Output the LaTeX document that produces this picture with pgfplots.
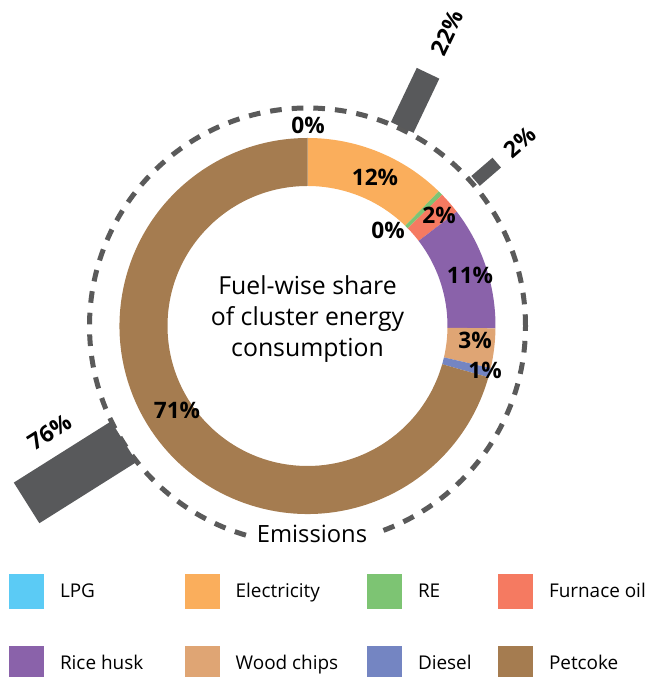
\documentclass[border=0pt]{standalone}
\usepackage{pgfplots}
\pgfplotsset{compat=1.18}
\usepackage{pgfplotstable}
\usepackage{fontspec}
\setmainfont{Open Sans}

\definecolor{fuel0}{HTML}{5BCBF5}
\definecolor{fuel1}{HTML}{FAAE5C}
\definecolor{fuel2}{HTML}{7DC473}
\definecolor{fuel3}{HTML}{F57A61}
\definecolor{fuel4}{HTML}{8A62AA}
\definecolor{fuel5}{HTML}{DFA574}
\definecolor{fuel6}{HTML}{7485C2}
\definecolor{fuel7}{HTML}{A57C50}
\definecolor{barcol}{HTML}{58595B}
\definecolor{dashcol}{HTML}{5A5A5A}

% fuel-wise share of cluster energy consumption (%), clockwise from top
\pgfplotstableread{
share
0.0
12.3
0.4
1.9
10.6
3.4
0.8
70.6
}\fuel

% emissions bars: angle clockwise from top, inner/outer radius, width (px), label pos, rotation, value
\pgfplotstableread{
angle rin rout width lx ly rot value
25.5 220 280 25 139.9 293.3 64.5 22
49.2 222 250 13 212.5 184 40.8 2
237.8 217 332 48 -258 -106 32.2 76
}\emis

\begin{document}
\begin{tikzpicture}
\def\cumul{0}
\pgfplotsforeachungrouped \i in {0,...,7}{%
  \pgfplotstablegetelem{\i}{share}\of\fuel
  \pgfmathsetmacro\tA{90-3.6*\cumul}%
  \pgfmathsetmacro\cumul{\cumul+\pgfplotsretval}%
  \pgfmathsetmacro\tB{90-3.6*\cumul}%
  \expandafter\xdef\csname fA\i\endcsname{\tA}%
  \expandafter\xdef\csname fB\i\endcsname{\tB}%
}
\pgfplotsforeachungrouped \i in {0,1,2}{%
  \pgfplotstablegetelem{\i}{angle}\of\emis
  \pgfmathsetmacro\tA{90-\pgfplotsretval}%
  \expandafter\xdef\csname eT\i\endcsname{\tA}%
  \pgfplotstablegetelem{\i}{rin}\of\emis
  \expandafter\xdef\csname eI\i\endcsname{\pgfplotsretval}%
  \pgfplotstablegetelem{\i}{rout}\of\emis
  \expandafter\xdef\csname eO\i\endcsname{\pgfplotsretval}%
  \pgfplotstablegetelem{\i}{width}\of\emis
  \expandafter\xdef\csname eW\i\endcsname{\pgfplotsretval}%
  \pgfplotstablegetelem{\i}{lx}\of\emis
  \expandafter\xdef\csname eX\i\endcsname{\pgfplotsretval}%
  \pgfplotstablegetelem{\i}{ly}\of\emis
  \expandafter\xdef\csname eY\i\endcsname{\pgfplotsretval}%
  \pgfplotstablegetelem{\i}{rot}\of\emis
  \expandafter\xdef\csname eR\i\endcsname{\pgfplotsretval}%
  \pgfplotstablegetelem{\i}{value}\of\emis
  \expandafter\xdef\csname eV\i\endcsname{\pgfplotsretval}%
}
\begin{axis}[
  hide axis, x=0.75pt, y=0.75pt,
  xmin=-307.5, xmax=341.5, ymin=-351, ymax=326,
  clip=false,
  legend image code/.code={\fill[#1, draw=none] (0pt,-13.125pt) rectangle (26.25pt,13.125pt);},
  legend style={at={(axis cs:-298.5,-248)}, anchor=north west, draw=none, fill=none,
    inner sep=0pt, outer sep=0pt, row sep=27.75pt,
    font=\fontsize{14.2}{17}\selectfont,
    nodes={inner sep=0pt, outer sep=0pt},
    /tikz/every odd column/.append style={column sep=12pt}},
  legend columns=4, legend cell align=left,
]
% donut
\pgfplotsinvokeforeach{0,...,7}{%
  \fill[fuel#1, shift={(axis cs:0,0)}]
    (\csname fA#1\endcsname:141pt) arc[start angle=\csname fA#1\endcsname, end angle=\csname fB#1\endcsname, radius=141pt]
    -- (\csname fB#1\endcsname:105pt) arc[start angle=\csname fB#1\endcsname, end angle=\csname fA#1\endcsname, radius=105pt] -- cycle;
}
% dashed emissions circle
\draw[dashcol, line width=3.75pt, dash pattern=on 8.75pt off 7.5pt] (axis cs:0,0) circle[radius=163.5pt];
% emission bars
\pgfplotsinvokeforeach{0,1,2}{%
  \fill[barcol, shift={(axis cs:0,0)}, rotate=\csname eT#1\endcsname]
    ({\csname eI#1\endcsname*0.75pt},{-0.375*\csname eW#1\endcsname*1pt}) rectangle
    ({\csname eO#1\endcsname*0.75pt},{0.375*\csname eW#1\endcsname*1pt});
  \node[font=\fontsize{17}{20}\selectfont\bfseries, rotate=\csname eR#1\endcsname]
    at (axis cs:\csname eX#1\endcsname,\csname eY#1\endcsname) {\csname eV#1\endcsname\%};
}
\node[fill=white, inner sep=6pt, anchor=base, font=\fontsize{17.8}{20}\selectfont] at (axis cs:4.5,-217) {Emissions};
% centre text
\begin{scope}[font=\fontsize{18.6}{22}\selectfont]
\node[anchor=base] at (axis cs:0,31) {Fuel-wise share};
\node[anchor=base] at (axis cs:0,0) {of cluster energy};
\node[anchor=base] at (axis cs:0,-31) {consumption};
\end{scope}
% share labels
\begin{scope}[font=\fontsize{17}{20}\selectfont\bfseries]
\node at (axis cs:0.5,201) {0\%};
\node at (axis cs:67.5,149) {12\%};
\node at (axis cs:80.5,96) {0\%};
\node at (axis cs:131.5,111) {2\%};
\node at (axis cs:162.5,51) {11\%};
\node at (axis cs:167.5,-14) {3\%};
\node at (axis cs:177.5,-44) {1\%};
\node at (axis cs:-130.5,-84) {71\%};
\end{scope}
% legend
\addlegendimage{fill=fuel0}\addlegendentry{\makebox[93.5pt][l]{LPG}}
\addlegendimage{fill=fuel1}\addlegendentry{\makebox[98.5pt][l]{Electricity}}
\addlegendimage{fill=fuel2}\addlegendentry{\makebox[60pt][l]{RE}}
\addlegendimage{fill=fuel3}\addlegendentry{Furnace oil}
\addlegendimage{fill=fuel4}\addlegendentry{\makebox[93.5pt][l]{Rice husk}}
\addlegendimage{fill=fuel5}\addlegendentry{\makebox[98.5pt][l]{Wood chips}}
\addlegendimage{fill=fuel6}\addlegendentry{\makebox[60pt][l]{Diesel}}
\addlegendimage{fill=fuel7}\addlegendentry{Petcoke}
\end{axis}
\pgfresetboundingbox
\useasboundingbox (current axis.south west) rectangle (current axis.north east);
\end{tikzpicture}
\end{document}
